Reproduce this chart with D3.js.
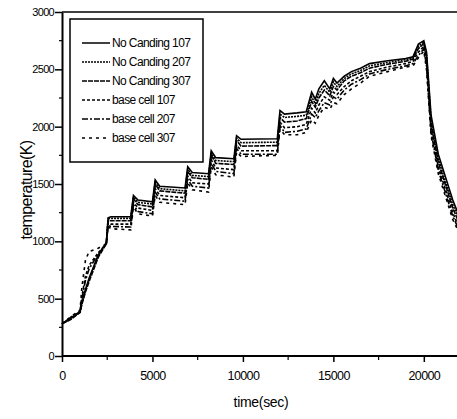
<!DOCTYPE html>
<html><head><meta charset="utf-8">
<script src="https://cdn.jsdelivr.net/npm/d3@7"></script>
<style>body{margin:0;background:#fff}svg{display:block}</style>
</head><body>
<script>
const seriesNames = ["No Canding 107","No Canding 207","No Canding 307","base cell 107","base cell 207","base cell 307"];
const time = [0,500,1000,1100,1300,1500,2000,2450,2550,2700,3800,3950,4200,5000,5150,5400,6800,6950,7200,8100,8250,8500,9500,9650,9900,11900,12050,12300,13000,13500,13800,14000,14200,14500,14800,15000,15200,15600,16000,16500,17000,18000,19000,19400,19700,20000,20150,20400,20800,21200,21600,22000];
const nc107 = [280,330,390,470,580,680,880,990,1205,1215,1215,1400,1360,1345,1535,1480,1465,1650,1600,1590,1790,1730,1720,1920,1890,1895,2140,2110,2120,2130,2300,2240,2330,2400,2330,2420,2380,2440,2480,2510,2550,2575,2595,2610,2720,2750,2650,2100,1760,1560,1360,1200];
const nc207 = [280,325,385,460,570,670,870,985,1195,1200,1200,1385,1340,1325,1515,1460,1440,1630,1575,1565,1770,1705,1695,1900,1860,1865,2110,2080,2090,2100,2260,2200,2290,2360,2300,2390,2350,2420,2460,2490,2530,2560,2585,2600,2700,2740,2620,2060,1720,1520,1320,1170];
const nc307 = [280,320,380,450,560,650,860,980,1180,1180,1180,1370,1320,1300,1500,1440,1420,1610,1555,1540,1750,1680,1670,1880,1830,1835,2080,2040,2050,2070,2220,2170,2250,2320,2270,2350,2320,2400,2440,2470,2510,2545,2570,2590,2680,2725,2590,2020,1690,1490,1290,1140];
const bc107 = [280,340,390,520,700,790,900,980,1160,1150,1150,1340,1290,1270,1460,1400,1380,1570,1510,1500,1710,1640,1625,1840,1790,1790,2040,1990,2000,2020,2160,2120,2190,2260,2230,2300,2280,2350,2400,2440,2480,2520,2550,2570,2650,2700,2560,1980,1650,1450,1250,1100];
const bc207 = [280,335,385,500,660,760,890,975,1140,1130,1125,1320,1260,1240,1430,1370,1350,1540,1480,1465,1680,1610,1590,1810,1760,1760,2010,1950,1960,1980,2110,2080,2140,2210,2190,2260,2240,2320,2370,2410,2460,2500,2530,2550,2620,2680,2530,1950,1620,1420,1220,1080];
const bc307 = [280,345,400,600,840,910,940,975,1130,1110,1100,1300,1240,1220,1400,1340,1320,1510,1450,1430,1650,1580,1560,1780,1740,1750,1980,1930,1930,1950,2060,2030,2100,2170,2150,2210,2200,2280,2330,2380,2440,2480,2520,2530,2600,2660,2500,1920,1590,1390,1190,1060];
const seriesValues = [nc107,nc207,nc307,bc107,bc207,bc307];
const dashes = [null,"2,1","5,1","3,2","6,2,2,2","3,4"];
const xTicks = [0,5000,10000,15000,20000];
const yTicks = [0,500,1000,1500,2000,2500,3000];

const W=457,H=419;
const svg=d3.select("body").append("svg").attr("width",W).attr("height",H);
const x=d3.scaleLinear().domain([0,22000]).range([62,460]);
const y=d3.scaleLinear().domain([0,3000]).range([356,12]);
const font="Liberation Sans, Arial, sans-serif";

// top frame line
svg.append("line").attr("x1",62).attr("x2",460).attr("y1",y(3000)).attr("y2",y(3000)).attr("stroke","#000").attr("stroke-width",1.5);

// minor ticks
svg.append("g").selectAll("line").data(d3.range(250,3000,500)).join("line")
  .attr("x1",59).attr("x2",62).attr("y1",d=>y(d)).attr("y2",d=>y(d)).attr("stroke","#000").attr("stroke-width",1.2);
svg.append("g").selectAll("line").data(d3.range(2500,22000,5000)).join("line")
  .attr("x1",d=>x(d)).attr("x2",d=>x(d)).attr("y1",356).attr("y2",360).attr("stroke","#000").attr("stroke-width",1.2);

const yAxis=svg.append("g").attr("transform","translate(62,0)")
  .call(d3.axisLeft(y).tickValues(yTicks).tickSize(7).tickPadding(1).tickFormat(d3.format("d")).tickSizeOuter(0));
const xAxis=svg.append("g").attr("transform","translate(0,356)")
  .call(d3.axisBottom(x).tickValues(xTicks).tickSize(6).tickPadding(9).tickFormat(d3.format("d")).tickSizeOuter(0));
[yAxis,xAxis].forEach(g=>{
  g.select(".domain").attr("stroke-width",2);
  g.selectAll(".tick line").attr("stroke-width",1.5);
  g.selectAll("text").attr("font-family",font).attr("fill","#000");
});
yAxis.selectAll("text").attr("font-size","11px").attr("letter-spacing","-0.7px");
xAxis.selectAll("text").attr("font-size","12.5px").attr("letter-spacing","-0.6px");
xAxis.select(".domain").attr("d","M62,0H460");

// lines
const line=d3.line().x(d=>x(d[0])).y(d=>y(d[1]));
seriesValues.forEach((vals,i)=>{
  svg.append("path").datum(time.map((t,j)=>[t,vals[j]]))
    .attr("d",line).attr("fill","none").attr("stroke","#000").attr("stroke-width",1.6)
    .attr("stroke-dasharray",dashes[i]);
});

// legend
const lg=svg.append("g");
lg.append("rect").attr("x",70).attr("y",19).attr("width",133).attr("height",143)
  .attr("fill","#fff").attr("stroke","#000").attr("stroke-width",1.5);
seriesNames.forEach((n,i)=>{
  const yy=43+i*19;
  lg.append("line").attr("x1",82).attr("x2",110).attr("y1",yy).attr("y2",yy)
    .attr("stroke","#000").attr("stroke-width",1.5).attr("stroke-dasharray",dashes[i]);
  lg.append("text").attr("x",112).attr("y",yy+4).text(n)
    .attr("font-family",font).attr("font-size","12px").attr("letter-spacing","-0.6px");
});

// axis titles
svg.append("text").attr("x",261).attr("y",407).attr("text-anchor","middle")
  .attr("font-family",font).attr("font-size","14px").attr("letter-spacing","-0.3px").text("time(sec)");
svg.append("text").attr("transform","translate(32,190) rotate(-90)").attr("text-anchor","middle")
  .attr("font-family",font).attr("font-size","16px").attr("letter-spacing","-0.6px").text("temperature(K)");
</script>
</body></html>
